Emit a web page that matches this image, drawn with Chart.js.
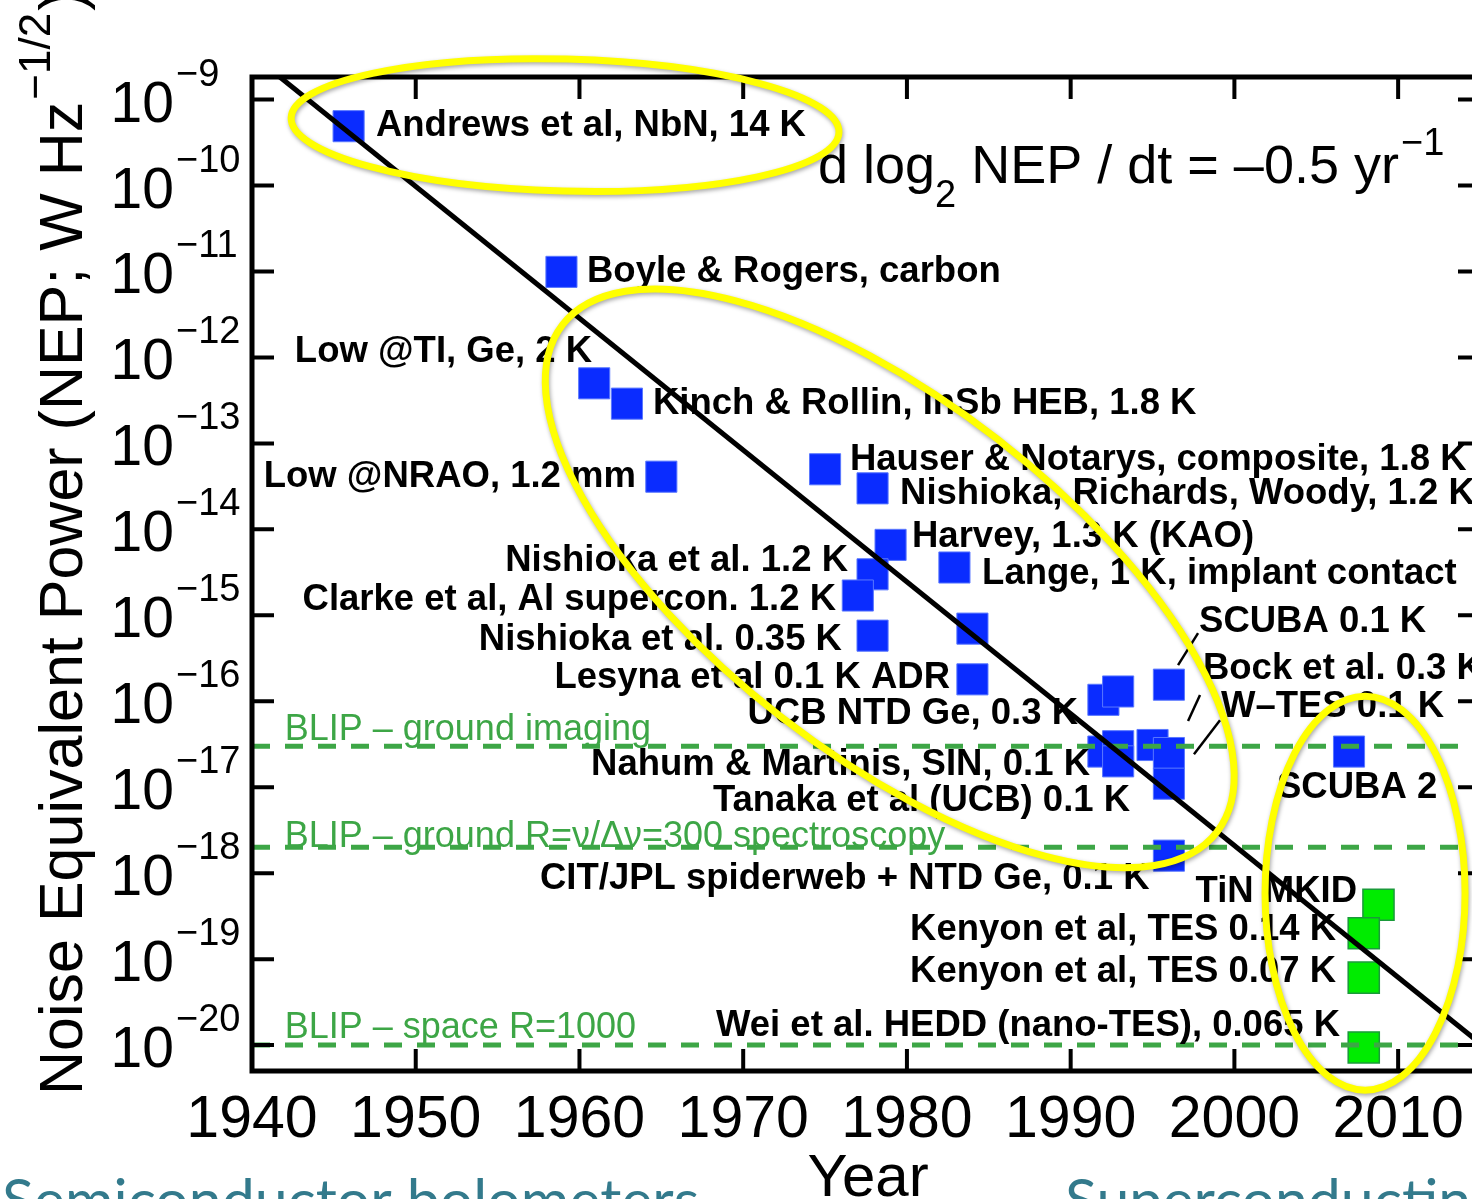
<!DOCTYPE html>
<html>
<head>
<meta charset="utf-8">
<script src="https://cdn.jsdelivr.net/npm/chart.js@4.4.0/dist/chart.umd.min.js"></script>
<style>
html, body { margin: 0; padding: 0; background: #fff; overflow: hidden; width: 1472px; height: 1199px; }
#clip { position: relative; width: 1472px; height: 1199px; overflow: hidden; }
#myChart { position: absolute; left: 0; top: 0; }
</style>
</head>
<body>
<div id="clip"><canvas id="myChart" width="1484" height="1199"></canvas></div>
<script>
// axis ticks
var xTickYears = [1940, 1950, 1960, 1970, 1980, 1990, 2000, 2010];
var yTickPowers = [-9, -10, -11, -12, -13, -14, -15, -16, -17, -18, -19, -20];

// semiconductor + early superconducting bolometers (blue)
var blueYears = [1945.9, 1958.9, 1960.9, 1962.9, 1965.0, 1975.0, 1977.9, 1979.0, 1977.9, 1977.0,
                 1982.9, 1977.9, 1984.0, 1984.0, 1992.0, 1992.9, 1996.0, 1992.0, 1992.9, 1992.9,
                 1995.0, 1996.0, 1996.0, 1996.0, 2007.0];
var blueNEP = [4.9e-10, 9.9e-12, 5.0e-13, 2.9e-13, 4.1e-14, 5.0e-14, 3.0e-14, 6.6e-15, 3.0e-15, 1.7e-15,
               3.6e-15, 5.8e-16, 7.0e-16, 1.8e-16, 1.04e-16, 1.3e-16, 1.56e-16, 2.6e-17, 3.0e-17, 2.0e-17,
               3.1e-17, 2.5e-17, 1.1e-17, 1.6e-18, 2.6e-17];

// TES / MKID (green)
var greenYears = [2008.8, 2007.9, 2007.9, 2007.9];
var greenNEP = [4.3e-19, 2.0e-19, 6.1e-20, 9.4e-21];

// d log2 NEP / dt trend
var trendYears = [1941.7, 2015];
var trendNEP = [1.83e-9, 1.05e-20];

// BLIP limits
var blipNames = ['BLIP – ground imaging', 'BLIP – ground R=ν/Δν=300 spectroscopy', 'BLIP – space R=1000'];
var blipNEP = [3.0e-17, 2.0e-18, 1.0e-20];

// text labels: text, year, log10 NEP, align
var labels = [
  ['Andrews et al, NbN, 14 K', 1947.57, -9.308, 'left'],
  ['Boyle & Rogers, carbon', 1960.46, -11.007, 'left'],
  ['Low @TI, Ge, 2 K', 1960.77, -11.938, 'right'],
  ['Kinch & Rollin, InSb HEB, 1.8 K', 1964.49, -12.543, 'left'],
  ['Low @NRAO, 1.2 mm', 1963.45, -13.392, 'right'],
  ['Hauser & Notarys, composite, 1.8 K', 1976.52, -13.194, 'left'],
  ['Nishioka, Richards, Woody, 1.2 K', 1979.58, -13.590, 'left'],
  ['Harvey, 1.3 K (KAO)', 1980.31, -14.090, 'left'],
  ['Nishioka et al. 1.2 K', 1976.40, -14.369, 'right'],
  ['Lange, 1 K, implant contact', 1984.59, -14.520, 'left'],
  ['Clarke et al, Al supercon. 1.2 K', 1975.67, -14.822, 'right'],
  ['SCUBA 0.1 K', 1997.84, -15.079, 'left'],
  ['Nishioka et al. 0.35 K', 1976.03, -15.288, 'right'],
  ['Bock et al. 0.3 K', 1998.08, -15.626, 'left'],
  ['Lesyna et al 0.1 K ADR', 1982.63, -15.731, 'right'],
  ['W–TES 0.1 K', 1999.18, -16.068, 'left'],
  ['UCB NTD Ge, 0.3 K', 1990.45, -16.149, 'right'],
  ['Nahum & Martinis, SIN, 0.1 K', 1991.18, -16.743, 'right'],
  ['SCUBA 2', 2002.60, -17.010, 'left'],
  ['Tanaka et al (UCB) 0.1 K', 1993.63, -17.161, 'right'],
  ['CIT/JPL spiderweb + NTD Ge, 0.1 K', 1957.59, -18.062, 'left'],
  ['TiN MKID', 2007.49, -18.213, 'right'],
  ['Kenyon et al, TES 0.14 K', 2006.21, -18.655, 'right'],
  ['Kenyon et al, TES 0.07 K', 2006.21, -19.144, 'right'],
  ['Wei et al. HEDD (nano-TES), 0.065 K', 2006.45, -19.772, 'right']
];

// short leader lines: year1, log1, year2, log2
var leaders = [
  [1997.78, -15.207, 1996.56, -15.579],
  [1997.90, -15.928, 1997.17, -16.230],
  [1999.12, -16.221, 1997.53, -16.617]
];

// yellow highlight ellipses: year, log10 centre, rx px, ry px, rotation deg
var ellipses = [
  [1959.12, -9.297, 274, 66, 1.5],
  [1978.95, -14.57, 414, 176, 37.8],
  [2007.98, -18.232, 100, 197, 0]
];

var FONT = '"Liberation Sans", Arial, Helvetica, sans-serif';
var blipColor = '#3da646';

function pts(xs, ys) {
  return xs.map(function (x, i) { return { x: x, y: ys[i] }; });
}

var datasets = [
  {
    type: 'line', data: pts(trendYears, trendNEP), borderColor: '#000', borderWidth: 5,
    pointRadius: 0, fill: false, order: 0
  }
];
blipNEP.forEach(function (v) {
  datasets.push({
    type: 'line', data: [{ x: 1940, y: v }, { x: 2015, y: v }], borderColor: blipColor,
    borderWidth: 5, borderDash: [18, 15], pointRadius: 0, fill: false, order: 1
  });
});
datasets.push({
  type: 'scatter', data: pts(blueYears, blueNEP), pointStyle: 'rect', pointRadius: 22,
  backgroundColor: '#0a2cff', borderColor: '#5a78ff', borderWidth: 1, order: 2
});
datasets.push({
  type: 'scatter', data: pts(greenYears, greenNEP), pointStyle: 'rect', pointRadius: 22,
  backgroundColor: '#00ec00', borderColor: '#1a9a3a', borderWidth: 1.5, order: 2
});

var drawing = {
  id: 'drawing',
  afterDatasetsDraw: function (chart) {
    var c = chart.ctx, xs = chart.scales.x, ys = chart.scales.y;
    c.save();
    // BLIP captions
    var lift = [6, 0, 7];
    c.fillStyle = blipColor;
    c.font = '36px ' + FONT;
    c.textAlign = 'left';
    c.textBaseline = 'alphabetic';
    blipNames.forEach(function (t, i) {
      c.fillText(t, xs.getPixelForValue(1942.0), ys.getPixelForValue(blipNEP[i]) - lift[i]);
    });
    // point labels
    c.fillStyle = '#000';
    c.font = 'bold 36.5px ' + FONT;
    c.textBaseline = 'middle';
    labels.forEach(function (l) {
      c.textAlign = l[3];
      c.fillText(l[0], xs.getPixelForValue(l[1]), ys.getPixelForValue(Math.pow(10, l[2])));
    });
    // leader lines
    c.strokeStyle = '#000';
    c.lineWidth = 2.5;
    leaders.forEach(function (s) {
      c.beginPath();
      c.moveTo(xs.getPixelForValue(s[0]), ys.getPixelForValue(Math.pow(10, s[1])));
      c.lineTo(xs.getPixelForValue(s[2]), ys.getPixelForValue(Math.pow(10, s[3])));
      c.stroke();
    });
    c.restore();
  },
  afterDraw: function (chart) {
    var c = chart.ctx, xs = chart.scales.x, ys = chart.scales.y, a = chart.chartArea;
    var tick = 22;
    c.save();
    // frame
    c.strokeStyle = '#000';
    c.lineWidth = 5;
    c.strokeRect(a.left, a.top, a.right - a.left, a.bottom - a.top);
    c.lineWidth = 4;
    c.beginPath();
    yTickPowers.forEach(function (p) {
      var py = ys.getPixelForValue(Math.pow(10, p));
      c.moveTo(a.left, py); c.lineTo(a.left + tick, py);
      c.moveTo(a.right, py); c.lineTo(a.right - tick, py);
    });
    xTickYears.forEach(function (yr) {
      var px = xs.getPixelForValue(yr);
      c.moveTo(px, a.bottom); c.lineTo(px, a.bottom - tick);
      c.moveTo(px, a.top); c.lineTo(px, a.top + tick);
    });
    c.stroke();

    // y tick labels 10^p
    c.fillStyle = '#000';
    c.textBaseline = 'alphabetic';
    yTickPowers.forEach(function (p) {
      var py = ys.getPixelForValue(Math.pow(10, p));
      c.font = '57px ' + FONT;
      c.textAlign = 'right';
      c.fillText('10', a.left - 78, py + 22);
      c.font = '38px ' + FONT;
      c.textAlign = 'left';
      c.fillText('−' + (-p), a.left - 76, py - 14);
    });
    // x tick labels
    c.font = '59px ' + FONT;
    c.textAlign = 'center';
    xTickYears.forEach(function (yr) {
      c.fillText(String(yr), xs.getPixelForValue(yr), a.bottom + 66);
    });
    // x title
    c.font = '60px ' + FONT;
    c.fillText('Year', 868, a.bottom + 125);

    // y title (rotated)
    c.save();
    c.translate(a.left - 170, a.bottom + 24);
    c.rotate(-Math.PI / 2);
    c.textAlign = 'left';
    c.font = '61px ' + FONT;
    var main = 'Noise Equivalent Power (NEP; W Hz';
    c.fillText(main, 0, 0);
    var w = c.measureText(main).width;
    c.font = '44px ' + FONT;
    c.fillText('−1/2', w + 2, -32);
    var w2 = c.measureText('−1/2').width;
    c.font = '61px ' + FONT;
    c.fillText(')', w + w2 + 4, 0);
    c.restore();

    // slope formula
    var fx = a.left + 566, fy = a.top + 106;
    c.textAlign = 'left';
    c.font = '54px ' + FONT;
    c.fillText('d log', fx, fy);
    fx += c.measureText('d log').width;
    c.font = '38px ' + FONT;
    c.fillText('2', fx, fy + 24);
    fx += c.measureText('2').width;
    c.font = '54px ' + FONT;
    c.fillText(' NEP / dt = –0.5 yr', fx, fy);
    fx += c.measureText(' NEP / dt = –0.5 yr').width;
    c.font = '38px ' + FONT;
    c.fillText('−1', fx + 2, fy - 28);

    // yellow ellipses
    c.strokeStyle = '#ffff00';
    c.lineWidth = 7;
    c.shadowColor = 'rgba(0,0,0,0.35)';
    c.shadowBlur = 4;
    c.shadowOffsetX = 1;
    c.shadowOffsetY = 2;
    ellipses.forEach(function (e) {
      c.beginPath();
      c.ellipse(xs.getPixelForValue(e[0]), ys.getPixelForValue(Math.pow(10, e[1])), e[2], e[3],
        e[4] * Math.PI / 180, 0, Math.PI * 2);
      c.stroke();
    });
    c.shadowColor = 'transparent';

    // slide captions cut by the bottom edge
    c.fillStyle = '#337a8c';
    c.font = '59px Lato, "Open Sans", sans-serif';
    c.textAlign = 'left';
    c.fillText('Semiconductor bolometers', 2, 1221);
    c.fillText('Superconducting bolometers', 1065, 1221);
    c.restore();
  }
};

new Chart(document.getElementById('myChart'), {
  type: 'scatter',
  data: { datasets: datasets },
  options: {
    responsive: false,
    animation: false,
    layout: { autoPadding: false, padding: { left: 252, top: 77, right: 4, bottom: 128 } },
    plugins: { legend: { display: false }, tooltip: { enabled: false } },
    scales: {
      x: { type: 'linear', min: 1940, max: 2015, display: false },
      y: { type: 'logarithmic', min: 5.0e-21, max: 1.83e-9, display: false }
    }
  },
  plugins: [drawing]
});
</script>
</body>
</html>
